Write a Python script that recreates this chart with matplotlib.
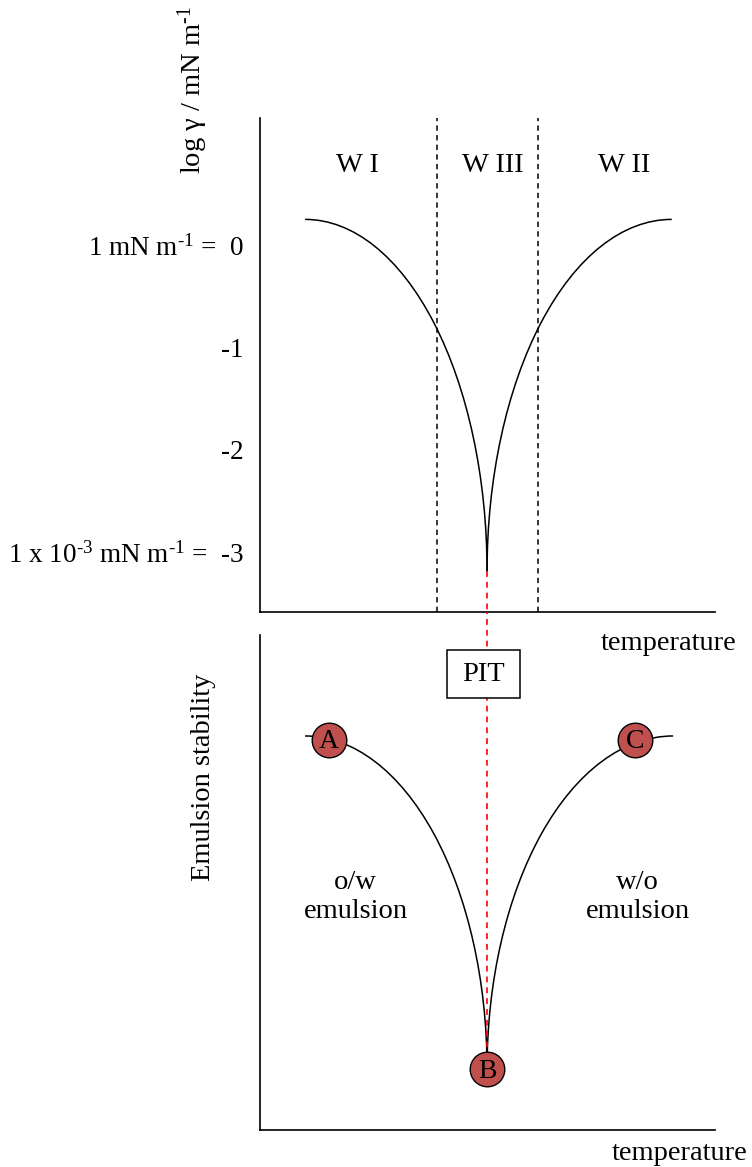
import matplotlib
matplotlib.use("Agg")
import matplotlib.pyplot as plt
from matplotlib.patches import Arc, Rectangle

plt.rcParams['font.family'] = ['Liberation Serif', 'DejaVu Serif']
plt.rcParams['mathtext.fontset'] = 'custom'
plt.rcParams['mathtext.rm'] = 'Liberation Serif'
plt.rcParams['mathtext.it'] = 'Liberation Serif:italic'
plt.rcParams['mathtext.bf'] = 'Liberation Serif:bold'

# ---------------- data ----------------
# top panel: interfacial tension curve (start, PIT cusp, end)
top_temp = [9.9, 49.9, 90.5]
top_logg = [0.25, -3.19, 0.25]
ytick_vals = [0, -1, -2, -3]
ytick_labels = [r"1 mN m$^{\text{-1}}$ =  0", "-1", "-2",
                r"1 x 10$^{\text{-3}}$ mN m$^{\text{-1}}$ =  -3"]
phase_bounds = [38.9, 61.1]
phase_labels = ["W I", "W III", "W II"]
phase_label_x = [21.5, 51.2, 80.0]
phase_label_y = 0.78

# bottom panel: emulsion stability curve (start, minimum B, end)
bot_temp = [9.9, 49.9, 90.8]
bot_stab = [0.796, 0.123, 0.796]
point_labels = ["A", "B", "C"]
point_temp = [15.2, 49.9, 82.4]
point_stab = [0.788, 0.123, 0.788]
pit_temp = 49.9

FS = 20.5
fig = plt.figure(figsize=(7.52, 11.67), dpi=100)

ax1 = fig.add_axes([260/752, 1-612/1167, 455/752, 494/1167])
ax2 = fig.add_axes([260/752, 1-1130/1167, 455/752, 495/1167])

for ax in (ax1, ax2):
    ax.spines['top'].set_visible(False)
    ax.spines['right'].set_visible(False)
    ax.spines['left'].set_linewidth(1.2)
    ax.spines['bottom'].set_linewidth(1.2)
    ax.set_xticks([])
    ax.set_xlim(0, 100)
    ax.patch.set_visible(False)

# ---- top axes ----
ax1.set_ylim(-3.587, 1.241)
ax1.set_yticks(ytick_vals)
ax1.set_yticklabels(ytick_labels)
ax1.tick_params(axis='y', length=0, pad=12, labelsize=19.5)

lw = 1.1
ax1.add_patch(Arc((top_temp[0], top_logg[1]), 2*(top_temp[1]-top_temp[0]),
                  2*(top_logg[0]-top_logg[1]), theta1=0, theta2=90,
                  color='black', lw=lw))
ax1.add_patch(Arc((top_temp[2], top_logg[1]), 2*(top_temp[2]-top_temp[1]),
                  2*(top_logg[2]-top_logg[1]), theta1=90, theta2=180,
                  color='black', lw=lw))
for xb in phase_bounds:
    ax1.axvline(xb, color='black', lw=1.1, linestyle=(0, (3.5, 2.8)))
for lab, xl in zip(phase_labels, phase_label_x):
    ax1.text(xl, phase_label_y, lab, ha='center', va='center', fontsize=FS)
ax1.plot([pit_temp, pit_temp], [top_logg[1], -3.587], color='#FF0000', lw=1.2,
         linestyle=(0, (3.5, 3.0)), clip_on=False)
ax1.text(0.897, -0.063, "temperature", transform=ax1.transAxes,
         ha='center', va='center', fontsize=FS)

# ---- bottom axes ----
ax2.set_ylim(0, 1)
ax2.set_yticks([])
ax2.add_patch(Arc((bot_temp[0], bot_stab[1]), 2*(bot_temp[1]-bot_temp[0]),
                  2*(bot_stab[0]-bot_stab[1]), theta1=0, theta2=90,
                  color='black', lw=lw))
ax2.add_patch(Arc((bot_temp[2], bot_stab[1]), 2*(bot_temp[2]-bot_temp[1]),
                  2*(bot_stab[2]-bot_stab[1]), theta1=90, theta2=180,
                  color='black', lw=lw))
ax2.plot([pit_temp, pit_temp], [bot_stab[1], 1.046], color='#FF0000', lw=1.2,
         linestyle=(0, (3.5, 3.0)), clip_on=False, zorder=2)
ax2.scatter(point_temp, point_stab, s=620, color='#C0504D', edgecolor='black',
            linewidth=1.0, zorder=5, clip_on=False)
for lab, xp, yp in zip(point_labels, point_temp, point_stab):
    ax2.text(xp, yp - 0.004, lab, ha='center', va='center', fontsize=FS - 0.5,
             zorder=6)

# PIT box
ax2.add_patch(Rectangle((41.1, 0.873), 16.0, 0.097, facecolor='white',
                        edgecolor='black', lw=1.1, zorder=7, clip_on=False))
ax2.text(49.1, 0.921, "PIT", ha='center', va='center', fontsize=FS, zorder=8)

ax2.text(21.0, 0.471, "o/w\nemulsion", ha='center', va='center', fontsize=FS,
         linespacing=1.2)
ax2.text(83.0, 0.471, "w/o\nemulsion", ha='center', va='center', fontsize=FS,
         linespacing=1.2)
ax2.text(0.923, -0.047, "temperature", transform=ax2.transAxes,
         ha='center', va='center', fontsize=FS)

# axis titles
fig.text(193/752, 1-90/1167, r"log γ / mN m$^{\text{-1}}$", rotation=90,
         ha='center', va='center', fontsize=FS)
fig.text(203/752, 1-777/1167, "Emulsion stability", rotation=90,
         ha='center', va='center', fontsize=FS)

fig.savefig("out.png", dpi=100)
